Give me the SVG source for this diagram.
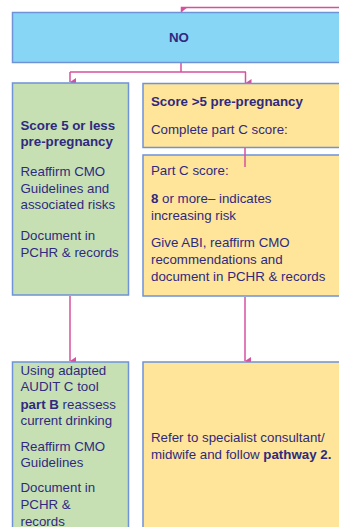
<svg xmlns="http://www.w3.org/2000/svg" width="339" height="527" viewBox="0 0 339 527">
<defs>
<marker id="ah" markerWidth="8" markerHeight="8" refX="4" refY="6" orient="auto" markerUnits="userSpaceOnUse" viewBox="0 0 8 8">
<path d="M0,0 L8,0 L4,6 Z" fill="#d6509e"/>
</marker>
<style>
.box{stroke:#6e93d6;stroke-width:1.5}
.blue{fill:#87d6f6}
.green{fill:#c6e0b4}
.yellow{fill:#fee599}
.t{font-family:"Liberation Sans",Arial,sans-serif;font-size:13.3px;fill:#2f2a7f}
.b{font-weight:bold}
.c{stroke:#d6509e;stroke-width:1.5;fill:none}
</style>
</defs>
<rect width="339" height="527" fill="#ffffff"/>
<g id="connectors">
<path class="c" d="M339,7.5 H181.5 V12"/>
<path d="M181,12.5 L181,7 L188,7 Z" fill="#d6509e"/>
<path class="c" d="M181,63 V72 M70,72 H246"/>
<path class="c" d="M70,72 V82" marker-end="url(#ah)"/>
<path class="c" d="M245.5,72 V83" marker-end="url(#ah)"/>
<path class="c" d="M70,296 V361" marker-end="url(#ah)"/>
<path class="c" d="M245,297 V361" marker-end="url(#ah)"/>
</g>
<g id="node-no">
<rect class="box blue" x="12.5" y="12.5" width="340" height="50"/>
<text class="t b" x="179" y="42" text-anchor="middle">NO</text>
</g>
<g id="node-score5less">
<rect class="box green" x="12.5" y="83" width="116" height="212"/>
<text class="t b" x="20.5" y="130">Score 5 or less</text>
<text class="t b" x="20.5" y="146">pre-pregnancy</text>
<text class="t" x="20.5" y="176">Reaffirm CMO</text>
<text class="t" x="20.5" y="192.5">Guidelines and</text>
<text class="t" x="20.5" y="209">associated risks</text>
<text class="t" x="20.5" y="240">Document in</text>
<text class="t" x="20.5" y="256.5">PCHR &amp; records</text>
</g>
<g id="node-score-gt5">
<rect class="box yellow" x="143" y="83.5" width="210" height="64"/>
<text class="t b" x="151" y="106">Score &gt;5 pre-pregnancy</text>
<text class="t" x="151" y="133.5">Complete part C score:</text>
</g>
<g id="node-partc">
<rect class="box yellow" x="143" y="155" width="210" height="141"/>
<text class="t" x="151" y="175">Part C score:</text>
<text class="t" x="151" y="203"><tspan class="b">8</tspan> or more– indicates</text>
<text class="t" x="151" y="219.5">increasing risk</text>
<text class="t" x="151" y="247">Give ABI, reaffirm CMO</text>
<text class="t" x="151" y="264">recommendations and</text>
<text class="t" x="151" y="281">document in PCHR &amp; records</text>
</g>
<path class="c" d="M245,148 V167"/>
<g id="node-partb">
<rect class="box green" x="12.5" y="362" width="116" height="180"/>
<text class="t" x="20.5" y="374.5">Using adapted</text>
<text class="t" x="20.5" y="391">AUDIT C tool</text>
<text class="t" x="20.5" y="408.5"><tspan class="b">part B</tspan> reassess</text>
<text class="t" x="20.5" y="425">current drinking</text>
<text class="t" x="20.5" y="450.5">Reaffirm CMO</text>
<text class="t" x="20.5" y="467">Guidelines</text>
<text class="t" x="20.5" y="492">Document in</text>
<text class="t" x="20.5" y="509">PCHR &amp;</text>
<text class="t" x="20.5" y="526">records</text>
</g>
<g id="node-refer">
<rect class="box yellow" x="143" y="362" width="210" height="180"/>
<text class="t" x="151" y="442">Refer to specialist consultant/</text>
<text class="t" x="151" y="459">midwife and follow <tspan class="b">pathway 2.</tspan></text>
</g>
</svg>
